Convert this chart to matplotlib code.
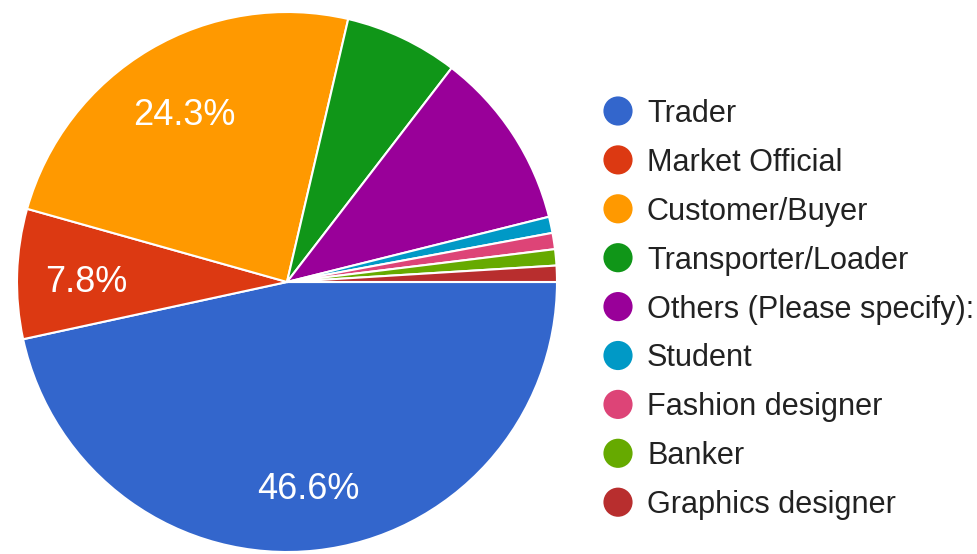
import matplotlib
matplotlib.use("Agg")
import matplotlib.pyplot as plt
import matplotlib.transforms as mtransforms
import numpy as np

plt.rcParams['font.family'] = ['Liberation Sans', 'DejaVu Sans']

categories = ["Trader", "Market Official", "Customer/Buyer", "Transporter/Loader",
              "Others (Please specify):", "Student", "Fashion designer", "Banker",
              "Graphics designer"]
counts = [48, 8, 25, 7, 11, 1, 1, 1, 1]
colors = ["#3366cc", "#dc3912", "#ff9900", "#109618", "#990099",
          "#0099c6", "#dd4477", "#66aa00", "#b82e2e"]
labeled = {"Trader", "Market Official", "Customer/Buyer"}

W, H = 977, 554
fig = plt.figure(figsize=(W / 100, H / 100), dpi=100)

# pie axes: centre (287, 282) px, radius 270 px
cx, cy, r = 287, 282, 270
ax = fig.add_axes([(cx - r) / W, (H - cy - r) / H, 2 * r / W, 2 * r / H])
total = sum(counts)
wedges, _ = ax.pie(counts, colors=colors, startangle=0, counterclock=False,
                   radius=1.0, wedgeprops=dict(edgecolor="white", linewidth=1.5))
ax.set_xlim(-1, 1)
ax.set_ylim(-1, 1)
ax.set_aspect("equal")
ax.axis("off")

# percentage labels, nudged a few pixels down
shift = mtransforms.offset_copy(ax.transData, fig=fig, x=0, y=-7, units="dots")
for w, name, c in zip(wedges, categories, counts):
    if name not in labeled:
        continue
    mid = np.deg2rad((w.theta1 + w.theta2) / 2)
    d = 0.745
    ax.text(d * np.cos(mid), d * np.sin(mid), f"{100 * c / total:.1f}%",
            ha="center", va="center", color="white", fontsize=26,
            transform=shift)

# legend
lg = fig.add_axes([0, 0, 1, 1])
lg.set_xlim(0, W)
lg.set_ylim(H, 0)
lg.axis("off")
y0, dy = 111, 48.9
for i, (name, col) in enumerate(zip(categories, colors)):
    y = y0 + i * dy
    lg.scatter([618], [y], s=21 ** 2, color=col, edgecolors="none")
    lg.text(647, y + 3, name, ha="left", va="center", fontsize=22.1, color="#222222")

fig.savefig("out.png", dpi=100)
